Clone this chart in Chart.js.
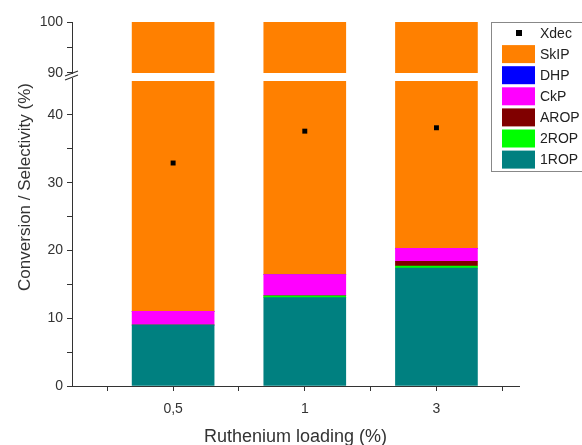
<!DOCTYPE html>
<html>
<head>
<meta charset="utf-8">
<script src="https://cdn.jsdelivr.net/npm/chart.js@4"></script>
<style>
  html, body { margin: 0; background: #fff; }
  #wrap { width: 582px; height: 445px; position: relative; }
</style>
</head>
<body>
<div id="wrap"><canvas id="chart"></canvas></div>
<script>
// ---- data ----
var loadings = ['0,5', '1', '3'];
var rop1 = [9.0, 13.05, 17.4];
var rop2 = [0, 0.25, 0.3];
var arop = [0, 0, 0.7];
var ckp  = [2.0, 3.15, 1.9];
var dhp  = [0, 0, 0];
var skip = [89.0, 83.55, 79.7];
var xdec = [32.9, 37.6, 38.1];
var lowerTicks = [0, 5, 10, 15, 20, 25, 30, 35, 40];
var upperTicks = [90, 95, 100];

var FONT = "'Liberation Sans', Arial, sans-serif";
var AXIS = '#333';

function xy(arr) { return arr.map(function(v, i) { return { x: i + 1, y: v }; }); }
function below(i) { return rop1[i] + rop2[i] + arop[i] + ckp[i] + dhp[i]; }

// 栈式柱状：从下到上
var stackDefs = [
  { label: '1ROP', data: rop1, color: '#008080' },
  { label: '2ROP', data: rop2, color: '#00ff00' },
  { label: 'AROP', data: arop, color: '#800000' },
  { label: 'CkP',  data: ckp,  color: '#ff00ff' },
  { label: 'DHP',  data: dhp,  color: '#0000ff' },
  { label: 'SkIP', data: skip, color: '#ff8000' }
];

var datasets = [{
  type: 'scatter', label: 'Xdec', data: xy(xdec), yAxisID: 'y', order: 0,
  pointStyle: 'rect', pointRadius: 3.5, pointHoverRadius: 3.5,
  backgroundColor: '#000', borderColor: '#000', borderWidth: 0
}];
stackDefs.forEach(function(d) {
  datasets.push({ type: 'bar', label: d.label, data: xy(d.data), yAxisID: 'y', order: 1,
    backgroundColor: d.color, borderWidth: 0, barThickness: 82 });
});
// 断轴上半部分 (SkIP 顶端)
datasets.push({ type: 'bar', label: 'SkIP-top', upper: true, yAxisID: 'y2', order: 1,
  data: loadings.map(function(l, i) { return { x: i + 1, y: [below(i), below(i) + skip[i]] }; }),
  backgroundColor: '#ff8000', borderWidth: 0, barThickness: 82 });

// 每个数据集裁剪到自己的 y 轴区域
var clipPlugin = {
  id: 'clipPanels',
  beforeDatasetDraw: function(chart, args) {
    var ds = chart.data.datasets[args.index];
    var s = chart.scales[ds.yAxisID];
    var top = s.top, bottom = s.bottom;
    if (ds.upper) bottom = s.getPixelForValue(upperTicks[0]);
    var a = chart.chartArea, ctx = chart.ctx;
    ctx.save();
    ctx.beginPath();
    ctx.rect(a.left, top, a.right - a.left, bottom - top);
    ctx.clip();
  },
  afterDatasetDraw: function(chart) { chart.ctx.restore(); }
};

var decorPlugin = {
  id: 'decor',
  afterDraw: function(chart) {
    var ctx = chart.ctx, a = chart.chartArea, y2 = chart.scales.y2;
    // 断轴标记
    var yb = y2.getPixelForValue(upperTicks[0]) + 2;
    ctx.save();
    ctx.fillStyle = '#fff';
    ctx.fillRect(a.left - 1, yb - 1, 3, 4);
    ctx.strokeStyle = AXIS; ctx.lineWidth = 1.2;
    ctx.beginPath();
    ctx.moveTo(a.left - 7, yb + 1); ctx.lineTo(a.left + 6, yb - 4);
    ctx.moveTo(a.left - 7, yb + 5); ctx.lineTo(a.left + 6, yb);
    ctx.stroke();
    // 轴标题
    ctx.fillStyle = AXIS;
    ctx.textAlign = 'center'; ctx.textBaseline = 'middle';
    ctx.font = '18px ' + FONT;
    ctx.fillText('Ruthenium loading (%)', (a.left + a.right) / 2, 437);
    ctx.font = '17px ' + FONT;
    ctx.translate(25, 187);
    ctx.rotate(-Math.PI / 2);
    ctx.fillText('Conversion / Selectivity (%)', 0, 0);
    ctx.restore();

    // 图例
    ctx.save();
    var lx = 491, ly = 22, rowH = 21.1;
    ctx.fillStyle = '#fff';
    ctx.fillRect(lx, ly, 100, 149);
    ctx.strokeStyle = '#888'; ctx.lineWidth = 1;
    ctx.strokeRect(lx + 0.5, ly + 0.5, 100, 149);
    var items = [datasets[0]].concat(datasets.slice(1, 1 + stackDefs.length).reverse());
    ctx.font = '14px ' + FONT; ctx.textAlign = 'left'; ctx.textBaseline = 'middle';
    items.forEach(function(d, i) {
      var cy = ly + 11 + i * rowH;
      if (d.type === 'scatter') {
        ctx.fillStyle = '#000';
        ctx.fillRect(lx + 25, cy - 3, 6, 6);
      } else {
        ctx.fillStyle = d.backgroundColor;
        ctx.fillRect(lx + 11, cy - 9, 33, 18);
      }
      ctx.fillStyle = '#222';
      ctx.fillText(d.label, lx + 49, cy + 1);
    });
    ctx.restore();
  }
};

function yAxis(extra) {
  var base = {
    position: 'left', stack: 'v', offset: false,
    grid: { drawOnChartArea: false, drawTicks: true, tickLength: 5, color: AXIS, tickColor: AXIS },
    border: { display: true, color: AXIS, width: 1 },
    ticks: { color: AXIS, font: { family: FONT, size: 14 }, padding: 4, autoSkip: false,
      callback: function(v) { return v % 10 === 0 ? String(v) : ''; } },
    afterFit: function(s) { s.width = 72; }
  };
  return Object.assign(base, extra);
}

new Chart(document.getElementById('chart'), {
  type: 'bar',
  data: { datasets: datasets },
  options: {
    responsive: true, maintainAspectRatio: false, animation: false,
    layout: { padding: { left: 0, right: 63, top: 22, bottom: 0 } },
    plugins: { legend: { display: false }, tooltip: { enabled: false } },
    scales: {
      x: {
        type: 'linear', min: 0.232, max: 3.627, stacked: true, offset: false,
        afterBuildTicks: function(s) {
          var t = [];
          for (var v = 0.5; v <= loadings.length + 0.5; v += 0.5) t.push({ value: v });
          s.ticks = t;
        },
        grid: { drawOnChartArea: false, drawTicks: true, tickLength: 5, color: AXIS, tickColor: AXIS, offset: false },
        border: { display: true, color: AXIS, width: 1 },
        ticks: { color: AXIS, font: { family: FONT, size: 14 }, padding: 10, autoSkip: false, maxRotation: 0,
          callback: function(v) { return Number.isInteger(v) ? loadings[v - 1] : ''; } },
        afterFit: function(s) { s.height = 59; }
      },
      y: yAxis({ stackWeight: 305, min: 0, max: 45, stacked: true,
        afterBuildTicks: function(s) { s.ticks = lowerTicks.map(function(v) { return { value: v }; }); } }),
      y2: yAxis({ stackWeight: 59, min: 88.43, max: 100,
        afterBuildTicks: function(s) { s.ticks = upperTicks.map(function(v) { return { value: v }; }); } })
    }
  },
  plugins: [clipPlugin, decorPlugin]
});
</script>
</body>
</html>
